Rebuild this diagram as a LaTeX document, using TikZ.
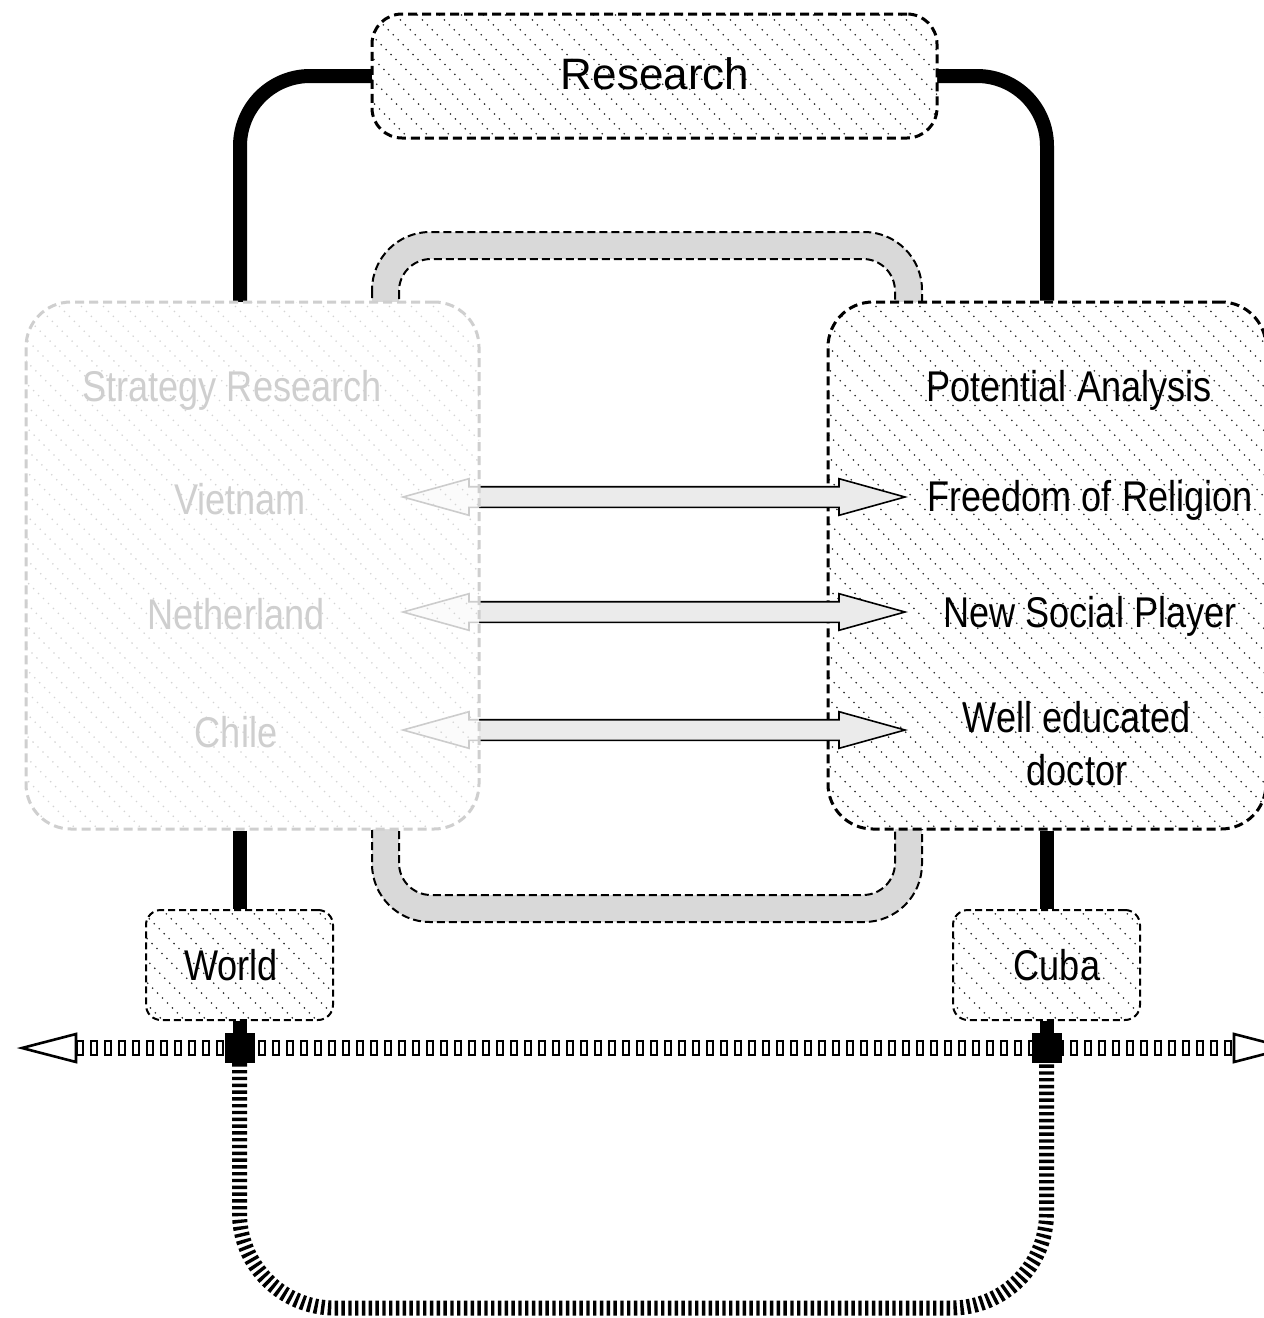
\documentclass[tikz,border=0pt]{standalone}
\usepackage{fontspec}
\usepackage{graphicx}
\setmainfont{Liberation Sans}
\usetikzlibrary{calc,shapes.arrows}
\newcommand\cz[1]{\scalebox{0.84}[1]{#1}}
\definecolor{faint}{HTML}{CFCFCF}
\definecolor{faintdot}{HTML}{D4D4D4}
\definecolor{band}{HTML}{D9D9D9}
\definecolor{shaft}{HTML}{EBEBEB}
\tikzset{
  hatch/.style={path picture={
    \foreach \k in {-60,...,60}{
      \draw[line width=1.3pt,#1,dash pattern=on 1.3pt off 5.7pt]
        ($(path picture bounding box.center)+(\k*22-700,-700)$) -- ++(1400,1400);}}},
  boxbase/.style={rectangle, inner sep=0pt, dash pattern=on 9pt off 5pt},
  resbox/.style={boxbase, rounded corners=30pt, line width=3pt, draw=black, fill=white, hatch=black!85},
  bigbox/.style={boxbase, rounded corners=45pt, line width=3pt},
  smallbox/.style={boxbase, rounded corners=15pt, line width=2pt, dash pattern=on 7pt off 4pt, draw=black, fill=white, hatch=black!85},
  conn/.style={line width=14pt, black},
  bandedge/.style={line width=2pt, black, dash pattern=on 8pt off 4pt},
  dblarrow/.style={double arrow, draw=black, line width=1.6pt, fill=shaft,
    minimum height=502pt, inner xsep=0pt, inner ysep=9.5pt,
    double arrow head extend=8pt, double arrow tip angle=31},
  lbl/.style={font=\fontsize{43pt}{53pt}\selectfont, inner sep=0pt, align=center},
  junc/.style={rectangle, fill=black, minimum size=30pt, inner sep=0pt},
  railout/.style={line width=16pt, black, dash pattern=on 8pt off 6pt},
  railin/.style={line width=12pt, white, dash pattern=on 4pt off 10pt, dash phase=-2pt},
  opentip/.style={line width=2.6pt, black, fill=white, line join=miter},
  stripe/.style={line width=15pt, black, dash pattern=on 3.4pt off 3.4pt},
}
\begin{document}
\begin{tikzpicture}[x=1pt,y=-1pt]
\useasboundingbox (0,0) rectangle (1264,1318);

% gray band loop
\draw[bandedge, fill=band, rounded corners=58pt] (372,232) rectangle (922,922);
\draw[bandedge, fill=white, rounded corners=32pt] (399,259) rectangle (895,895);

% boxes
\path (654.5,76) node[rectangle, inner sep=0pt, minimum width=565pt, minimum height=124pt] (research) {};
\node[bigbox, fill=white, minimum width=453pt, minimum height=527pt] (stratbase) at (252.5,565.5) {};
\node[bigbox, draw=black, fill=white, hatch=black!85, minimum width=438pt, minimum height=527pt] (pot) at (1047,565.5) {};

\coordinate (sTop) at (240,302);
\draw[conn, rounded corners=70pt] (research.west) -| (sTop);
\draw[conn, rounded corners=70pt] (research.east) -| (pot.north);
\node[resbox, minimum width=565pt, minimum height=124pt] (researchbox) at (research) {};
\node[lbl, font=\fontsize{44pt}{50pt}\selectfont] (restext) at (655,74) {Research};

\node[lbl] (pa) at (1069,390) {\cz{Potential Analysis}};
\node[lbl] (fr) at (1090,500) {\cz{Freedom of Religion}};
\node[lbl] (ns) at (1090,616) {\cz{New Social Player}};
\node[lbl] (we) at (1077,744) {\cz{Well educated}\\\cz{doctor}};

% double arrows
\coordinate (a1L) at (403,497); \coordinate (a1R) at (905,497);
\coordinate (a2L) at (403,612); \coordinate (a2R) at (905,612);
\coordinate (a3L) at (403,730); \coordinate (a3R) at (905,730);
\path (a1L) -- (a1R) node[midway, dblarrow] (d1) {};
\path (a2L) -- (a2R) node[midway, dblarrow] (d2) {};
\path (a3L) -- (a3R) node[midway, dblarrow] (d3) {};

% faded strategy box
\node[bigbox, draw=faint, fill=white, fill opacity=0.8, hatch=faintdot, minimum width=453pt, minimum height=527pt] (strat) at (252.5,565.5) {};
\node[lbl, text=faint] (sr) at (232,390) {\cz{Strategy Research}};
\node[lbl, text=faint] (vn) at (240,499) {\cz{Vietnam}};
\node[lbl, text=faint] (nl) at (236,614) {\cz{Netherland}};
\node[lbl, text=faint] (cl) at (236,732) {\cz{Chile}};

% lower boxes
\node[smallbox, minimum width=187pt, minimum height=110pt] (world) at (239.5,965) {};
\node[smallbox, minimum width=187pt, minimum height=110pt] (cuba) at (1046.5,965) {};
\draw[conn] (world.north |- strat.south) -- (world.north);
\draw[conn] (cuba.north |- pot.south) -- (cuba.north);
\node[lbl] at (231,965) {\cz{World}};
\node[lbl] at (1057,965) {\cz{Cuba}};

% rail
\coordinate (railL) at (22,1048);
\coordinate (railR) at (1288,1048);
\coordinate (bot) at (0,1308);
\draw[railout] ($(railL)+(54,0)$) -- ($(railR)+(-54,0)$);
\draw[railin] ($(railL)+(54,0)$) -- ($(railR)+(-54,0)$);
\draw[opentip] (railL) -- ++(54,-14) -- ++(0,28) -- cycle;
\draw[opentip] (railR) -- ++(-54,-14) -- ++(0,28) -- cycle;

\coordinate (jWc) at (239.5,1048);
\coordinate (jCc) at (1046.5,1048);
\draw[conn] (world.south) -- (jWc);
\draw[conn] (cuba.south) -- (jCc);
\node[junc] (jW) at (jWc) {};
\node[junc] (jC) at (jCc) {};

\draw[stripe, rounded corners=95pt] (jW.south) -- (jW.south |- bot) -- (jC.south |- bot) -- (jC.south);
\end{tikzpicture}
\end{document}
